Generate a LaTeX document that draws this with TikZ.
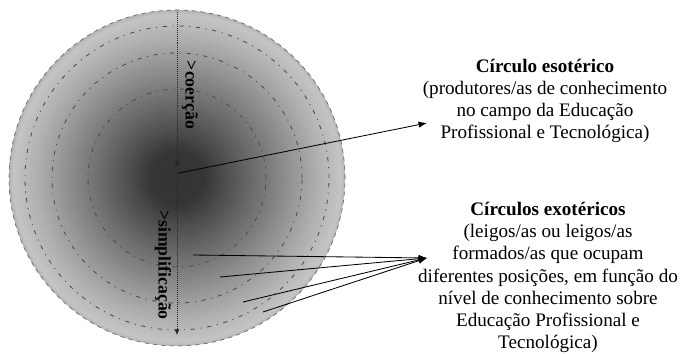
\documentclass[tikz,border=0pt]{standalone}
\usepackage{fontspec}
\setmainfont{Liberation Serif}
\usetikzlibrary{arrows.meta}

\pgfdeclareradialshading{globe}{\pgfpoint{0bp}{0bp}}{color(0bp)=(black!80); color(4bp)=(black!79); color(7bp)=(black!70); color(12bp)=(black!56); color(17bp)=(black!42); color(21bp)=(black!31); color(24.4bp)=(black!23); color(25bp)=(black!30); color(50bp)=(black!30)}

\tikzset{
	ring/.style = {black!70, line width = 0.6pt, dash pattern = on 3pt off 4pt on 0.8pt off 4pt},
	axis/.style = {thin, black!85, densely dotted, ->},
	pointer/.style = {semithick, ->},
	caption/.style = {align = center, inner sep = 0pt, font = \fontsize{13.6pt}{15.8pt}\selectfont},
	turned/.style = {rotate = -90, inner sep = 0pt, font = \fontsize{12.6pt}{14pt}\selectfont\bfseries}
}

\begin{document}
\begin{tikzpicture}[> = {Latex[length = 6pt, width = 4.5pt]}, x = 0.025cm, y = 0.025cm]

	% Definitions

	\def\CX{177}	% Centre of the circles
	\def\CY{176}
	\def\RO{168}	% Outer radius
	\def\RA{152}	% Radii of the inner dash-dot rings
	\def\RB{125}
	\def\RC{89}

	\useasboundingbox (0, 0) rectangle (682, 354);

	% Shaded disc and rings

	\shade [shading = globe] (\CX, \CY) circle (\RO);
	\draw [thin, black!65, dashed] (\CX, \CY) circle (\RO);
	\foreach \r in {\RA, \RB, \RC}
		\draw [ring] (\CX, \CY) circle (\r);

	% Vertical axis with its two labels

	\coordinate (top) at (\CX, 342);
	\coordinate (mid) at (\CX, 187);
	\coordinate (midlow) at (\CX, 182);
	\coordinate (bottom) at (\CX, 19);

	\draw [axis, > = {Latex[length = 4pt, width = 3.5pt]}] (top) -- (mid);
	\draw [axis, > = {Latex[length = 4pt, width = 3.5pt]}] (midlow) -- (bottom);
	\node [turned] (coercao) at (190, 259) {>coerção};
	\node [turned] (simplif) at (163, 89) {>simplificação};

	% Captions

	\node [caption] (esoterico) at (545, 253) {\textbf{Círculo esotérico}\\(produtores/as de conhecimento\\no campo da Educação\\Profissional e Tecnológica)};
	\node [caption] (exoterico) at (548, 76.5) {\textbf{Círculos exotéricos}\\(leigos/as ou leigos/as\\formados/as que ocupam\\diferentes posições, em função do\\nível de conhecimento sobre\\Educação Profissional e\\Tecnológica)};

	% Pointers

	\coordinate (core) at (179, 181);
	\coordinate (esotip) at (427, 231);
	\draw [pointer] (core) -- (esotip);

	\coordinate (exotip) at (427, 96);
	\coordinate (ringa) at (193, 99);
	\coordinate (ringb) at (220, 77);
	\coordinate (ringc) at (243, 52);
	\coordinate (ringd) at (263, 42);
	\foreach \p in {ringa, ringb, ringc, ringd}
		\draw [pointer] (\p) -- (exotip);

\end{tikzpicture}
\end{document}
